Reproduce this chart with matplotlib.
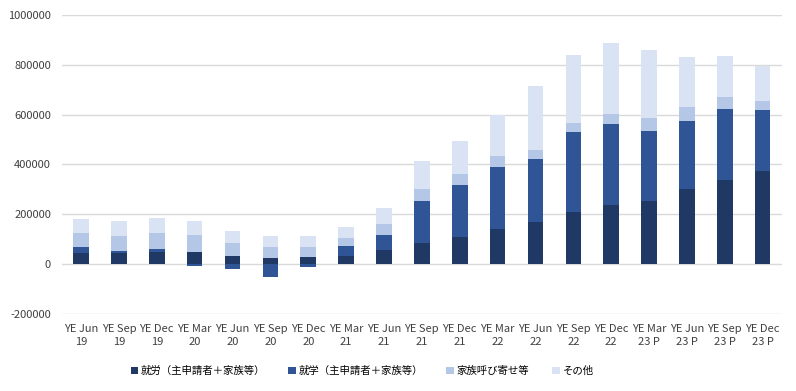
import matplotlib
matplotlib.use("Agg")
import matplotlib.pyplot as plt
import numpy as np

plt.rcParams['font.family'] = ['Noto Sans CJK JP', 'DejaVu Sans']

periods = ["YE Jun\n19", "YE Sep\n19", "YE Dec\n19", "YE Mar\n20", "YE Jun\n20",
           "YE Sep\n20", "YE Dec\n20", "YE Mar\n21", "YE Jun\n21", "YE Sep\n21",
           "YE Dec\n21", "YE Mar\n22", "YE Jun\n22", "YE Sep\n22", "YE Dec\n22",
           "YE Mar\n23 P", "YE Jun\n23 P", "YE Sep\n23 P", "YE Dec\n23 P"]

work = [45000, 45000, 49000, 49000, 32000, 24000, 28000, 32000, 56000, 84000,
        108000, 140000, 168000, 208000, 236000, 252000, 300000, 336000, 372000]
study = [24000, 8000, 11000, -8000, -20000, -52000, -12000, 40000, 60000, 168000,
         208000, 248000, 252000, 324000, 328000, 284000, 276000, 288000, 248000]
family = [56000, 59000, 65000, 68000, 53000, 44000, 40000, 32000, 44000, 48000,
          44000, 44000, 36000, 36000, 40000, 52000, 56000, 48000, 36000]
other = [55000, 60000, 60000, 55000, 47000, 44000, 44000, 44000, 64000, 112000,
         132000, 168000, 260000, 272000, 284000, 272000, 200000, 164000, 140000]

labels = ["就労（主申請者＋家族等）", "就学（主申請者＋家族等）", "家族呼び寄せ等", "その他"]
colors = ["#203864", "#2F5597", "#B4C7E7", "#DAE3F3"]

fig = plt.figure(figsize=(7.96, 3.91), dpi=100)
ax = fig.add_axes([0.078, 0.197, 0.904, 0.765])

x = np.arange(len(periods))
pos = np.zeros(len(periods))
neg = np.zeros(len(periods))
for vals, lab, col in zip([work, study, family, other], labels, colors):
    v = np.array(vals, dtype=float)
    bottom = np.where(v >= 0, pos, neg)
    ax.bar(x, v, 0.41, bottom=bottom, color=col, label=lab, zorder=3)
    pos = pos + np.where(v >= 0, v, 0)
    neg = neg + np.where(v < 0, v, 0)

ax.set_xlim(-0.5, len(periods) - 0.5)
ax.set_ylim(-200000, 1000000)
ax.set_yticks(np.arange(-200000, 1000001, 200000))
ax.set_yticklabels([str(t) for t in range(-200000, 1000001, 200000)])
ax.set_xticks(x)
ax.set_xticklabels(periods, linespacing=1.45)
ax.tick_params(axis='both', length=0, labelsize=8, colors="#404040")
ax.tick_params(axis='y', pad=8)
ax.tick_params(axis='x', pad=7)
ax.grid(axis='y', color="#D9D9D9", linewidth=1, zorder=0)
for s in ax.spines.values():
    s.set_visible(False)

fig.legend(loc='center', bbox_to_anchor=(0.455, 0.051), ncol=4, frameon=False,
           fontsize=7.5, handlelength=0.7, handleheight=0.7, handletextpad=0.3,
           columnspacing=2.2)

fig.savefig("out.png", dpi=100)
